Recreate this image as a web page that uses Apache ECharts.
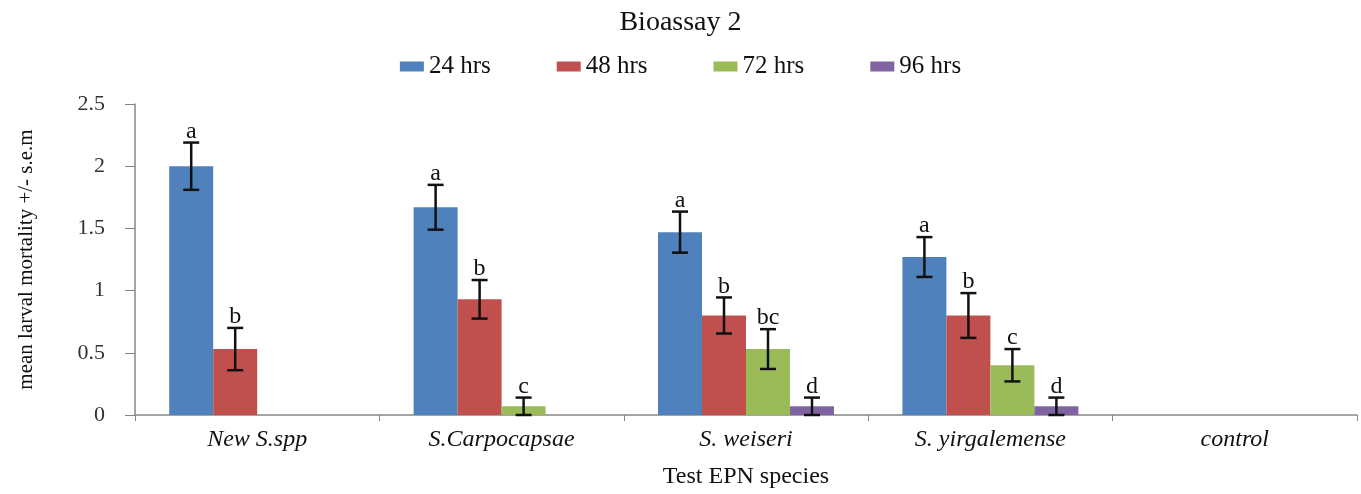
<!DOCTYPE html>
<html>
<head>
<meta charset="utf-8">
<script src="https://cdn.jsdelivr.net/npm/echarts@6/dist/echarts.min.js"></script>
<style>
  html, body { margin: 0; padding: 0; background: #fff; }
  #chart { width: 1361px; height: 494px; }
</style>
</head>
<body>
<div id="chart"></div>
<script>
var categories = ['New S.spp', 'S.Carpocapsae', 'S. weiseri', 'S. yirgalemense', 'control'];
var seriesNames = ['24 hrs', '48 hrs', '72 hrs', '96 hrs'];
var yTicks = [0, 0.5, 1, 1.5, 2, 2.5];

var mean24 = [2.0, 1.67, 1.47, 1.27, 0];
var sem24 = [0.19, 0.18, 0.165, 0.16, 0];
var mean48 = [0.53, 0.93, 0.80, 0.80, 0];
var sem48 = [0.17, 0.155, 0.145, 0.18, 0];
var mean72 = [0, 0.07, 0.53, 0.40, 0];
var sem72 = [0, 0.07, 0.16, 0.13, 0];
var mean96 = [0, 0, 0.07, 0.07, 0];
var sem96 = [0, 0, 0.07, 0.07, 0];

var letters24 = ['a', 'a', 'a', 'a', ''];
var letters48 = ['b', 'b', 'b', 'b', ''];
var letters72 = ['', 'c', 'bc', 'c', ''];
var letters96 = ['', '', 'd', 'd', ''];

var colors = ['#4F81BD', '#C0504D', '#9BBB59', '#8064A2'];
var means = [mean24, mean48, mean72, mean96];
var sems = [sem24, sem48, sem72, sem96];
var letters = [letters24, letters48, letters72, letters96];

var gapRatio = 0.28;
var serif = '"Liberation Serif", "Times New Roman", serif';

var chart = echarts.init(document.getElementById('chart'));

var series = [];
seriesNames.forEach(function (name, i) {
    series.push({
        name: name,
        type: 'bar',
        data: means[i],
        itemStyle: { color: colors[i] },
        barGap: '0%',
        barCategoryGap: (gapRatio * 100) + '%'
    });
});

// error bars + significance letters
seriesNames.forEach(function (name, i) {
    var data = [];
    for (var k = 0; k < categories.length; k++) {
        if (means[i][k] > 0) {
            data.push([k, means[i][k] - sems[i][k], means[i][k] + sems[i][k], letters[i][k]]);
        }
    }
    series.push({
        type: 'custom',
        silent: true,
        z: 5,
        data: data,
        encode: { x: 0, y: [1, 2] },
        renderItem: function (params, api) {
            var band = api.size([1, 0])[0];
            var barW = band * (1 - gapRatio) / seriesNames.length;
            var off = (i - (seriesNames.length - 1) / 2) * barW;
            var lo = api.coord([api.value(0), api.value(1)]);
            var hi = api.coord([api.value(0), api.value(2)]);
            var x = lo[0] + off;
            var cap = 8;
            var st = { stroke: '#111', lineWidth: 2.5 };
            return {
                type: 'group',
                children: [
                    { type: 'line', shape: { x1: x, y1: lo[1], x2: x, y2: hi[1] }, style: st },
                    { type: 'line', shape: { x1: x - cap, y1: hi[1], x2: x + cap, y2: hi[1] }, style: st },
                    { type: 'line', shape: { x1: x - cap, y1: lo[1], x2: x + cap, y2: lo[1] }, style: st },
                    {
                        type: 'text',
                        x: x, y: hi[1] + 1,
                        style: {
                            text: api.value(3),
                            fill: '#111',
                            font: '24px ' + serif,
                            align: 'center',
                            verticalAlign: 'bottom'
                        }
                    }
                ]
            };
        }
    });
});

var option = {
    animation: false,
    backgroundColor: '#fff',
    title: {
        text: 'Bioassay 2',
        left: 'center',
        top: 4,
        textStyle: { fontFamily: serif, fontSize: 28, fontWeight: 'normal', color: '#111' }
    },
    legend: {
        data: seriesNames,
        left: 'center',
        top: 49,
        itemWidth: 24,
        itemHeight: 10,
        itemGap: 66,
        icon: 'rect',
        textStyle: { fontFamily: serif, fontSize: 25, color: '#111' }
    },
    grid: { left: 135, right: 4, top: 104, bottom: 75 },
    xAxis: {
        type: 'category',
        data: categories,
        name: 'Test EPN species',
        nameLocation: 'middle',
        nameGap: 50,
        nameTextStyle: { fontFamily: serif, fontSize: 24, color: '#111' },
        axisLine: { lineStyle: { color: '#868686', width: 1.5 } },
        axisTick: { show: true, length: 6, lineStyle: { color: '#868686' } },
        axisLabel: { fontFamily: serif, fontSize: 24, fontStyle: 'italic', color: '#111', margin: 13 }
    },
    yAxis: {
        type: 'value',
        min: yTicks[0],
        max: yTicks[yTicks.length - 1],
        interval: yTicks[1] - yTicks[0],
        name: 'mean larval mortality +/- s.e.m',
        nameLocation: 'middle',
        nameGap: 98,
        nameTextStyle: { fontFamily: serif, fontSize: 21, color: '#111' },
        splitLine: { show: false },
        axisLine: { show: true, lineStyle: { color: '#868686', width: 1.5 } },
        axisTick: { show: true, length: 10, lineStyle: { color: '#868686' } },
        axisLabel: { fontFamily: serif, fontSize: 22, color: '#333', margin: 30 }
    },
    series: series
};

chart.setOption(option);

window.onresize = function () {
    chart.resize();
};
</script>
</body>
</html>
